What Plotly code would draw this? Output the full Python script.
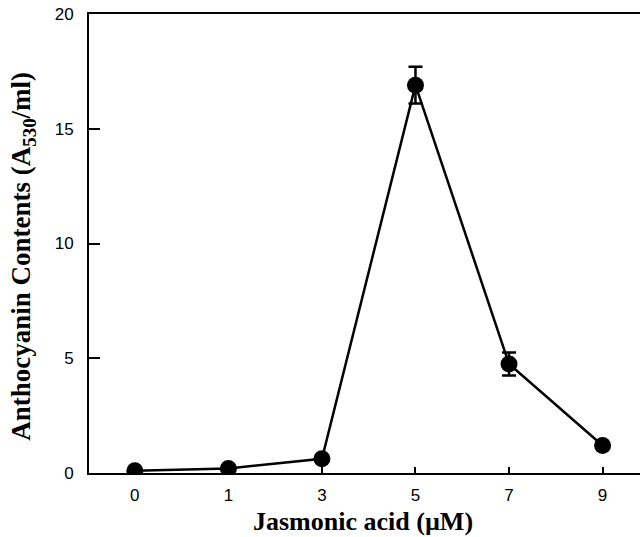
import plotly.graph_objects as go

categories = ["0", "1", "3", "5", "7", "9"]
anthocyanin = [0.1, 0.2, 0.62, 16.9, 4.75, 1.2]
errors = [0.0, 0.0, 0.0, 0.8, 0.5, 0.0]
y_ticks = [0, 5, 10, 15, 20]

fig = go.Figure()
fig.add_trace(go.Scatter(
    x=list(range(len(categories))), y=anthocyanin,
    mode="lines+markers",
    line=dict(color="black", width=2.5),
    marker=dict(color="black", size=17),
    error_y=dict(type="data", array=errors, visible=True, color="black", thickness=2.5, width=7),
    showlegend=False,
))

fig.update_layout(
    width=640, height=537,
    margin=dict(l=89, r=0, t=14, b=64),
    paper_bgcolor="white", plot_bgcolor="white",
    font=dict(family="Liberation Sans, Arial", color="black"),
    xaxis=dict(
        range=[-0.49, 5.40], tickmode="array",
        tickvals=list(range(len(categories))), ticktext=categories,
        ticks="inside", ticklen=6, tickwidth=1.5, tickcolor="black",
        showline=True, linecolor="black", linewidth=2, mirror=True,
        showgrid=False, zeroline=False,
        tickfont=dict(size=17), ticklabelstandoff=6,
    ),
    yaxis=dict(
        range=[0, 20], tickvals=y_ticks,
        ticks="inside", ticklen=11, tickwidth=1.5, tickcolor="black",
        showline=True, linecolor="black", linewidth=2, mirror=False,
        showgrid=False, zeroline=False,
        tickfont=dict(size=17), ticklabelstandoff=10,
    ),
    annotations=[
        dict(text="Jasmonic acid (µM)", xref="paper", yref="paper", x=0.498, y=-0.1394,
             xanchor="center", yanchor="bottom", showarrow=False, borderpad=0,
             font=dict(family="Liberation Serif, Times New Roman", size=26, color="black", weight="bold")),
        dict(text="Anthocyanin Contents (A<sub>530</sub>/ml)", xref="paper", yref="paper",
             x=-0.12, y=0.473, xanchor="center", yanchor="middle", textangle=-90, showarrow=False,
             font=dict(family="Liberation Serif, Times New Roman", size=27, color="black", weight="bold")),
    ],
)

fig.write_html("out.html")
